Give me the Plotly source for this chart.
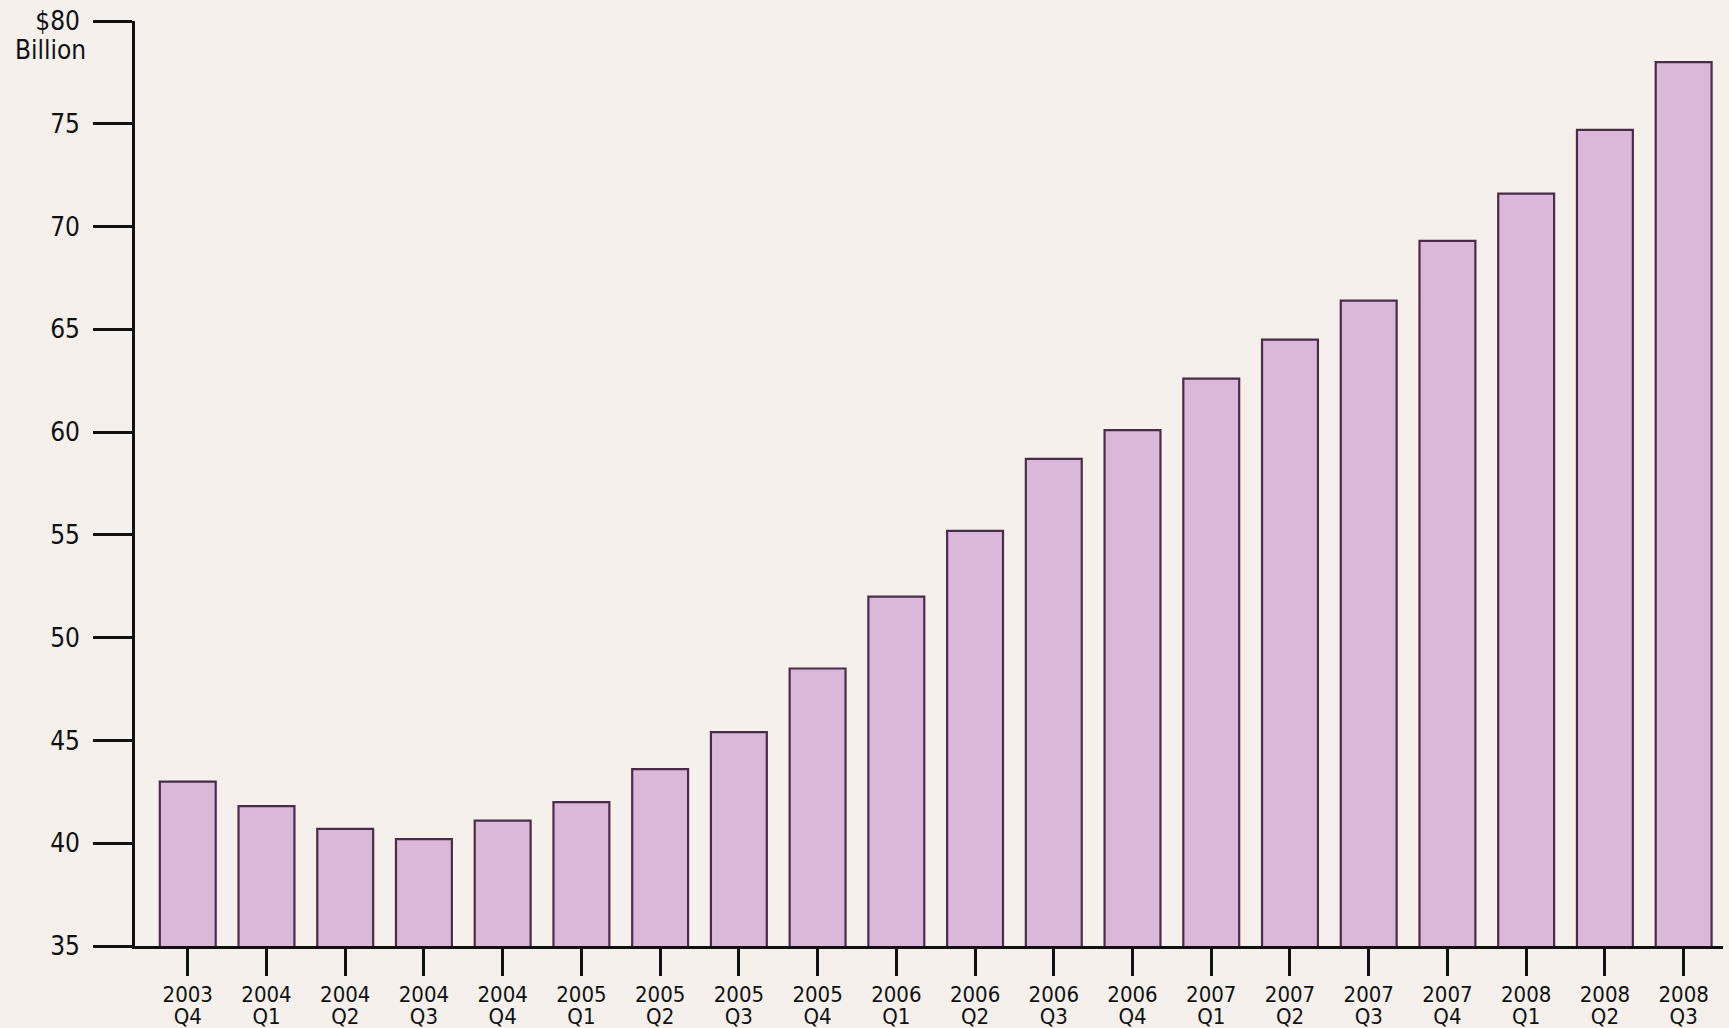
import plotly.graph_objects as go

# Quarterly values, $ billion
years = ["2003", "2004", "2004", "2004", "2004", "2005", "2005", "2005", "2005",
         "2006", "2006", "2006", "2006", "2007", "2007", "2007", "2007",
         "2008", "2008", "2008"]
quarters = ["Q4", "Q1", "Q2", "Q3", "Q4", "Q1", "Q2", "Q3", "Q4",
            "Q1", "Q2", "Q3", "Q4", "Q1", "Q2", "Q3", "Q4",
            "Q1", "Q2", "Q3"]
values = [43.0, 41.8, 40.7, 40.2, 41.1, 42.0, 43.6, 45.4, 48.5,
          52.0, 55.2, 58.7, 60.1, 62.6, 64.5, 66.4, 69.3,
          71.6, 74.7, 78.0]

y_ticks = [35, 40, 45, 50, 55, 60, 65, 70, 75, 80]
y_tick_text = ["35", "40", "45", "50", "55", "60", "65", "70", "75", "$80"]

FONT = "Liberation Sans Narrow, DejaVu Sans Condensed, Arial Narrow, sans-serif"
BG = "#f5f0eb"
INK = "#111111"
idx = list(range(len(values)))

fig = go.Figure()
fig.add_trace(go.Bar(
    x=idx, y=values, width=0.71,
    marker=dict(color="#d9b8d9", line=dict(color="#4a2c4a", width=2.2)),
    hoverinfo="skip",
))
# invisible trace so the quarter axis is drawn
fig.add_trace(go.Scatter(x=idx, y=values, xaxis="x2", mode="markers",
                         marker=dict(opacity=0), hoverinfo="skip", showlegend=False))

xr = [-0.67, len(values) - 0.5]
fig.update_layout(
    width=1729, height=1028,
    margin=dict(l=135, r=6, t=21, b=82),
    paper_bgcolor=BG, plot_bgcolor=BG,
    showlegend=False,
    font=dict(family=FONT, size=22, color=INK),
    xaxis=dict(
        range=xr, tickmode="array", tickvals=idx, ticktext=years,
        showgrid=False, zeroline=False, automargin=False,
        showline=True, linecolor=INK, linewidth=2.8,
        ticks="outside", ticklen=27, tickwidth=2.8, tickcolor=INK,
        ticklabelstandoff=0,
        tickfont=dict(family=FONT, size=22, color=INK),
    ),
    xaxis2=dict(
        range=xr, overlaying="x", anchor="y", side="bottom",
        tickmode="array", tickvals=idx, ticktext=quarters,
        showgrid=False, zeroline=False, showline=False, automargin=False,
        ticks="outside", ticklen=27, tickwidth=0, tickcolor="rgba(0,0,0,0)",
        ticklabelstandoff=24,
        tickfont=dict(family=FONT, size=22, color=INK),
    ),
    yaxis=dict(
        range=[35, 80], tickmode="array", tickvals=y_ticks, ticktext=y_tick_text,
        showgrid=False, zeroline=False, automargin=False,
        showline=True, linecolor=INK, linewidth=2.8,
        ticks="outside", ticklen=39, tickwidth=2.8, tickcolor=INK,
        ticklabelstandoff=8,
        tickfont=dict(family=FONT, size=26, color=INK),
    ),
    annotations=[dict(
        text="Billion", xref="paper", yref="y", x=0, y=80,
        xanchor="right", yanchor="top", xshift=-47, yshift=-12,
        showarrow=False, font=dict(family=FONT, size=26, color=INK),
    )],
)

fig.write_html("out.html")
